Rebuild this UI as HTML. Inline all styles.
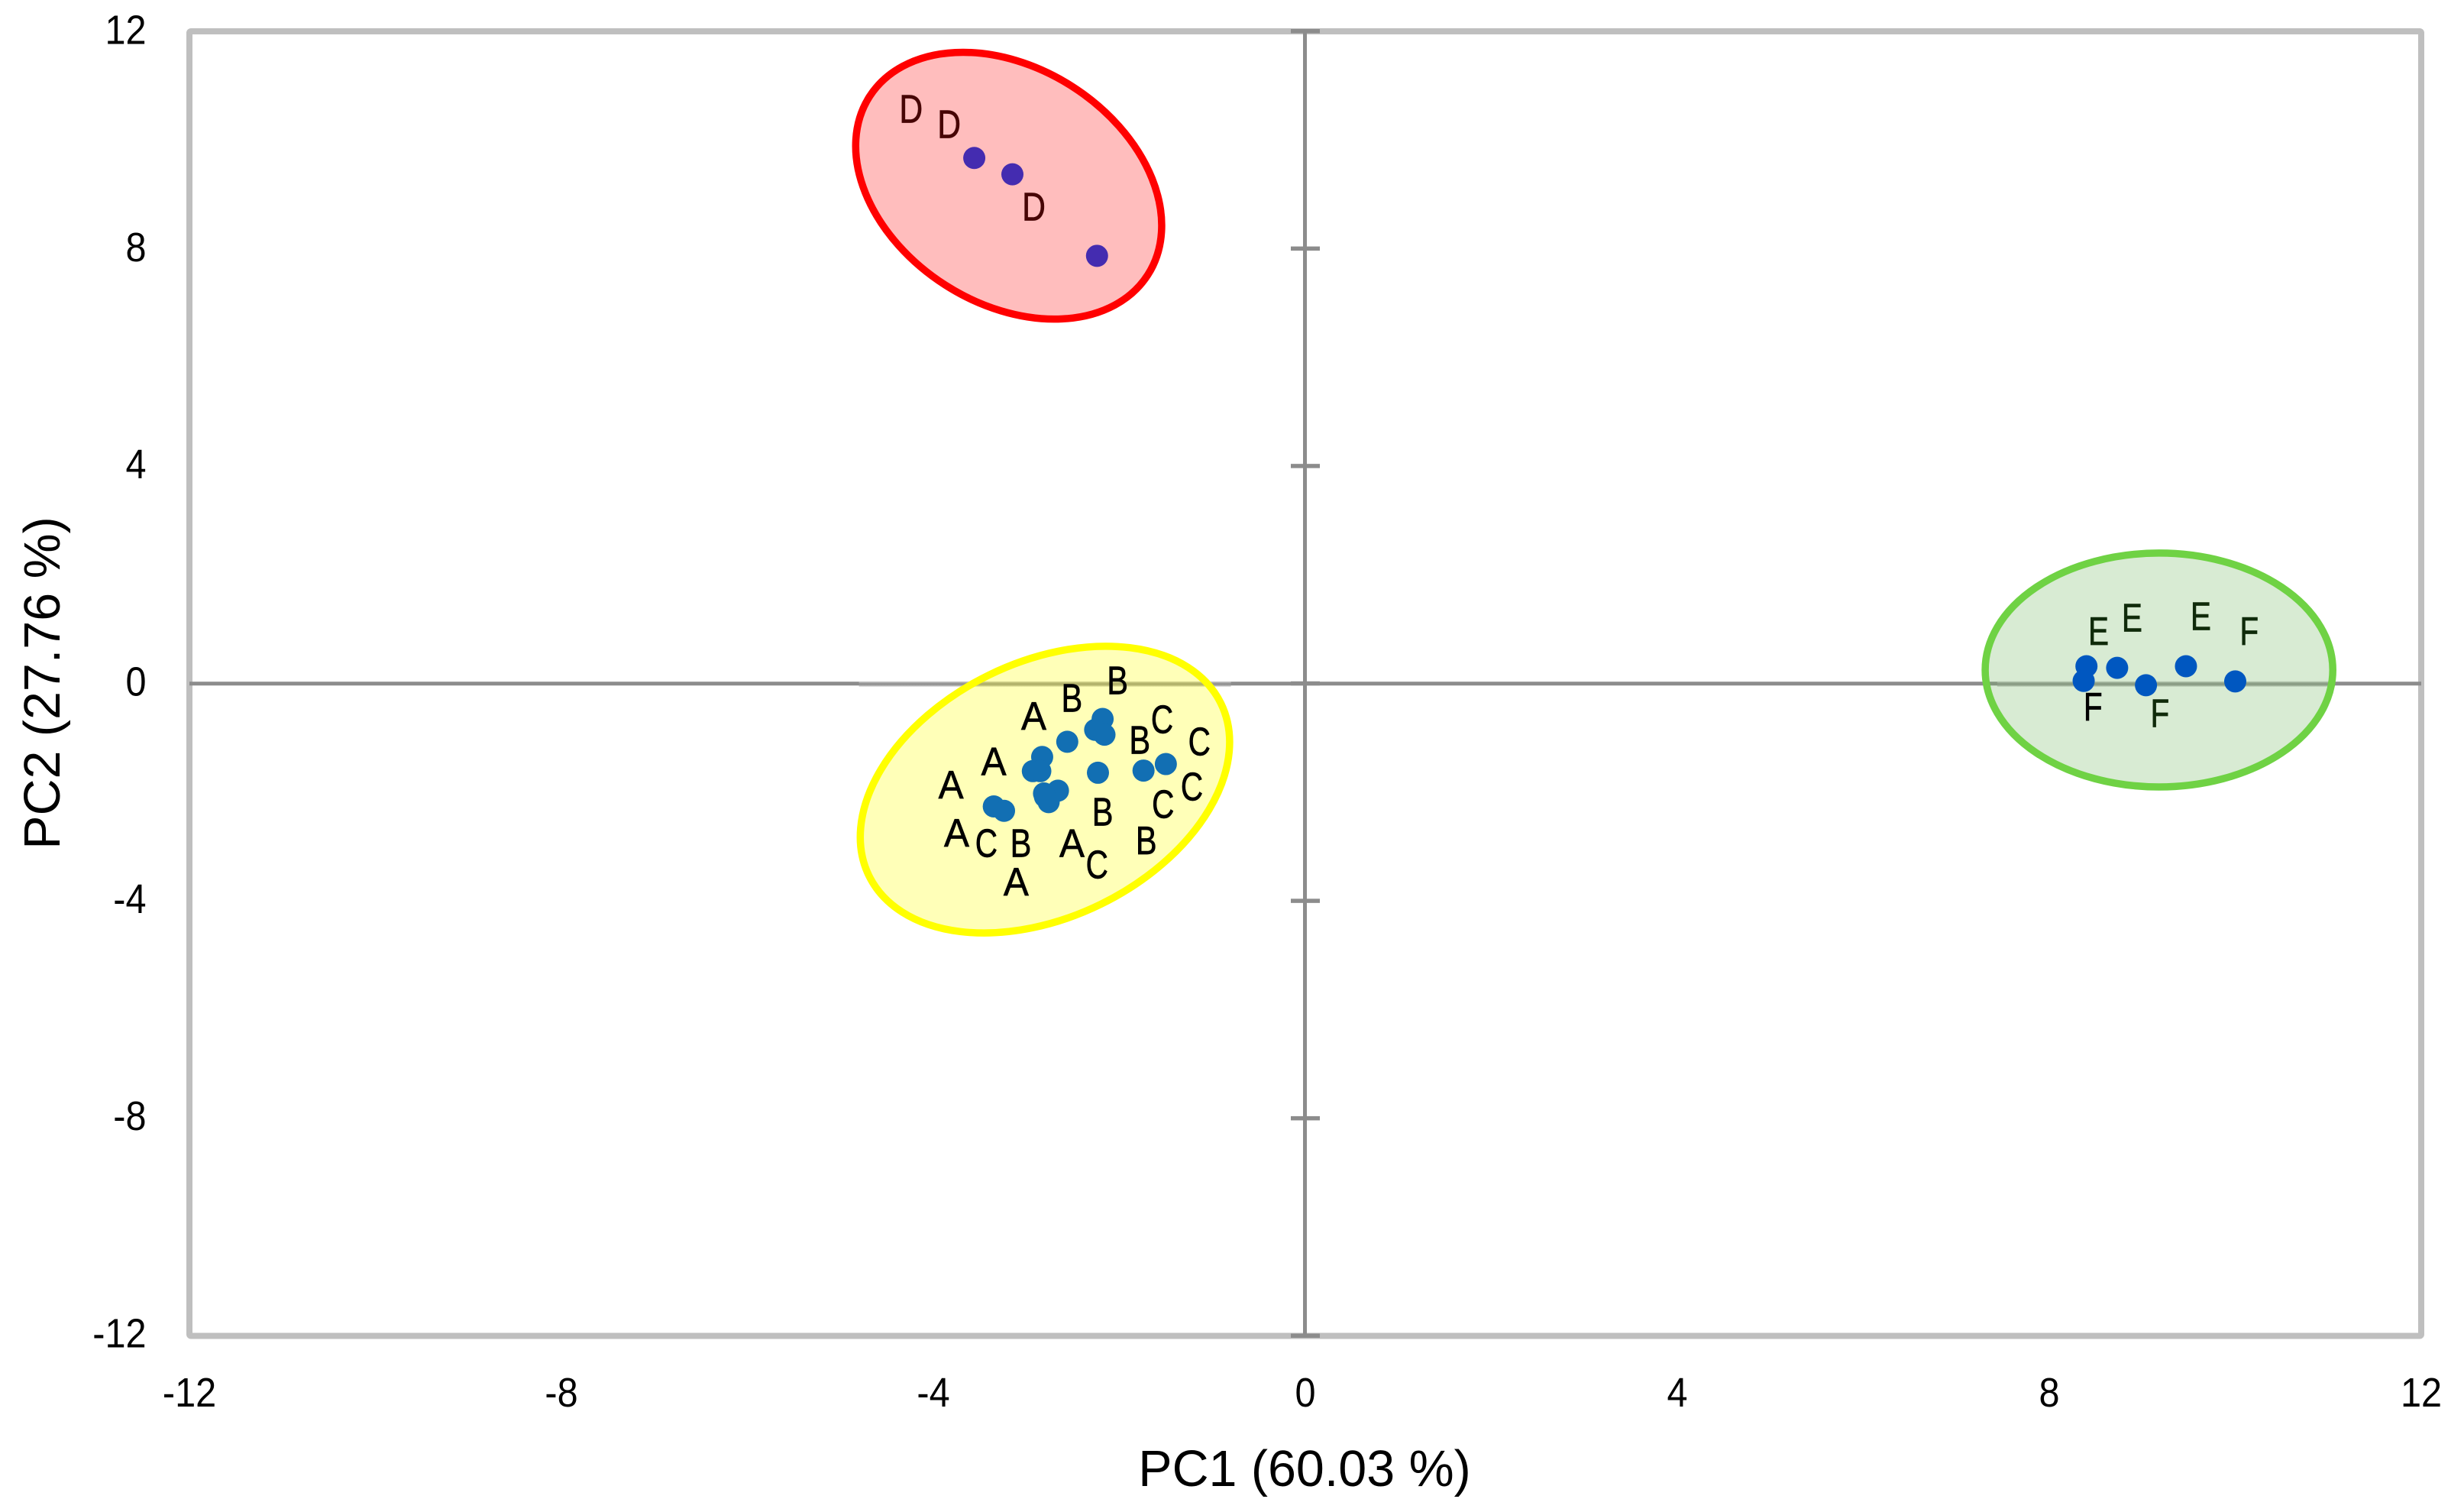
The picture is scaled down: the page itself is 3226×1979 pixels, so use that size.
<!DOCTYPE html>
<html lang="en">
<head>
<meta charset="utf-8">
<title>PCA score plot</title>
<style>
html,body{margin:0;padding:0;background:#fff;}
svg{display:block;font-family:"Liberation Sans",sans-serif;}
</style>
</head>
<body>
<svg id="chart" xmlns="http://www.w3.org/2000/svg" width="3226" height="1979" viewBox="0 0 3226 1979">
  <defs>
    <linearGradient id="softLine" x1="0" y1="0" x2="0" y2="1">
      <stop offset="0" stop-color="#dddddd"/>
      <stop offset="0.3" stop-color="#a0a0a0"/>
      <stop offset="0.55" stop-color="#8c8c8c"/>
      <stop offset="0.8" stop-color="#b0b0b0"/>
      <stop offset="1" stop-color="#e0e0e0"/>
    </linearGradient>
  </defs>
  <rect x="0" y="0" width="3226" height="1979" fill="#ffffff"/>
  <g id="axes"></g>
  <g id="ellipses"></g>
  <g id="labels"></g>
  <g id="points"></g>
  <g id="ticktext"></g>
  <text x="1708" y="1945" font-size="66.4" text-anchor="middle" fill="#000">PC1 (60.03 %)</text>
  <text transform="translate(78 894) rotate(-90)" x="0" y="0" font-size="66.4" text-anchor="middle" fill="#000">PC2 (27.76 %)</text>
</svg>
<script>
// ---- data (axis units) ----
const xTickValues = [-12, -8, -4, 0, 4, 8, 12];
const yTickValues = [12, 8, 4, 0, -4, -8, -12];

const clusterABCx = [-2.56, -2.18, -2.26, -2.16, -2.23, -1.74, -1.50, -2.83, -2.93, -2.85, -2.66, -2.81, -2.76, -2.80, -3.35, -3.24];
const clusterABCy = [-1.07, -0.65, -0.85, -0.94, -1.64, -1.60, -1.48, -1.35, -1.61, -1.61, -1.97, -2.02, -2.18, -2.08, -2.26, -2.34];
const clusterDx = [-3.56, -3.15, -2.24];
const clusterDy = [9.67, 9.37, 7.87];
const clusterEFx = [8.40, 8.37, 8.73, 9.04, 9.47, 10.00];
const clusterEFy = [0.32, 0.05, 0.29, -0.03, 0.32, 0.04];

const labelText = ['A','A','A','A','A','A','B','B','B','B','B','B','C','C','C','C','C','C','D','D','D','E','E','E','F','F','F'];
const labelX = [-2.92,-3.35,-3.81,-3.75,-3.11,-2.51,-2.02,-2.51,-1.78,-2.18,-1.71,-3.06,-1.54,-1.14,-1.22,-1.53,-2.24,-3.43,-4.24,-3.83,-2.92,8.53,8.89,9.63,10.15,8.47,9.19];
const labelY = [-0.59,-1.42,-1.85,-2.74,-3.64,-2.93,0.07,-0.26,-1.03,-2.35,-2.88,-2.93,-0.65,-1.06,-1.89,-2.21,-3.32,-2.93,10.58,10.30,8.78,0.97,1.22,1.25,0.97,-0.42,-0.54];

const ellipseNames = ['cluster-d-ellipse', 'cluster-abc-ellipse', 'cluster-ef-ellipse'];
const ellipseCx = [-3.19, -2.80, 9.18];
const ellipseCy = [9.16, -1.95, 0.25];
const ellipseMajor = [1.777, 2.107, 1.869];
const ellipseMinor = [1.267, 1.371, 1.257];
const ellipseTilt = [32.6, -26.1, 0];

const softAxisFrom = [-4.80, 7.44];
const softAxisTo = [-0.80, 11.00];

// ---- axis functions ----
const plotLeft = 248, plotRight = 3170, plotTop = 41, plotBottom = 1748.5;
const xUnit = (plotRight - plotLeft) / 24;
const yUnit = (plotBottom - plotTop) / 24;
function xScale(v) { return plotLeft + (v + 12) * xUnit; }
function yScale(v) { return plotTop + (12 - v) * yUnit; }

const NS = 'http://www.w3.org/2000/svg';
function make(parentId, tag, attrs) {
  const el = document.createElementNS(NS, tag);
  for (const k in attrs) el.setAttribute(k, attrs[k]);
  document.getElementById(parentId).appendChild(el);
  return el;
}

// frame
const frame = make('axes', 'rect', {x: plotLeft, y: plotTop, width: plotRight - plotLeft, height: plotBottom - plotTop, rx: 2, fill: 'none', stroke: '#bfbfbf', 'stroke-width': 8});



// horizontal axis
const hAxis = make('axes', 'rect', {x: plotLeft, y: yScale(0) - 2.5, width: plotRight - plotLeft, height: 5, fill: '#8c8c8c'});



softAxisFrom.forEach(function (from, i) {
  const cover = make('axes', 'rect', {x: xScale(from), y: yScale(0) - 3, width: xScale(softAxisTo[i]) - xScale(from), height: 7, fill: 'url(#softLine)'});
  
  
});

// vertical axis
const vAxis = make('axes', 'rect', {x: xScale(0) - 3, y: plotTop, width: 5, height: plotBottom - plotTop, fill: '#8c8c8c'});



// y ticks (on the vertical axis)
yTickValues.forEach(function (v) {
  const t = make('axes', 'rect', {x: xScale(0) - 19, y: yScale(v) - 3, width: 38, height: 5.5, fill: '#8c8c8c'});
  
  
});

// tick labels
const tickFont = 54, tickStretch = 0.9;
yTickValues.forEach(function (v) {
  const t = make('ticktext', 'text', {transform: 'translate(191.5 ' + (yScale(v) + 16.5 - (12 - v) * 0.06) + ') scale(' + tickStretch + ' 1)', 'font-size': tickFont, 'text-anchor': 'end', fill: '#000'});
  t.textContent = String(v);
  
  
});
xTickValues.forEach(function (v) {
  const t = make('ticktext', 'text', {transform: 'translate(' + xScale(v) + ' 1841) scale(' + tickStretch + ' 1)', 'font-size': tickFont, 'text-anchor': 'middle', fill: '#000'});
  t.textContent = String(v);
  
  
});

// cluster ellipses
const ellipseFill = ['rgba(255,0,0,0.26)', 'rgba(255,255,0,0.28)', 'rgba(111,181,92,0.27)'];
const ellipseStroke = ['#ff0000', '#ffff00', '#6fd244'];
ellipseNames.forEach(function (name, i) {
  const cx = xScale(ellipseCx[i]), cy = yScale(ellipseCy[i]);
  const e = make('ellipses', 'ellipse', {cx: cx, cy: cy, rx: ellipseMajor[i] * xUnit, ry: ellipseMinor[i] * xUnit, transform: 'rotate(' + ellipseTilt[i] + ' ' + cx + ' ' + cy + ')', fill: ellipseFill[i], stroke: ellipseStroke[i], 'stroke-width': 9.5});
  
  
});

// point labels
const labelColor = {A: '#000000', B: '#000000', C: '#000000', D: '#460505', E: '#0f2a0a', F: '#0f2a0a'};
const labelStretch = {A: 0.95, B: 0.8, C: 0.78, D: 0.82, E: 0.78, F: 0.78};
labelText.forEach(function (s, i) {
  const t = make('labels', 'text', {transform: 'translate(' + xScale(labelX[i]) + ' ' + (yScale(labelY[i]) + 18.5) + ') scale(' + labelStretch[s] + ' 1)', 'font-size': 52, 'text-anchor': 'middle', fill: (i === 25 ? '#000000' : labelColor[s]), stroke: (i === 25 ? '#000000' : labelColor[s]), 'stroke-width': 0.7});
  t.textContent = s;
  
  
});

// points
function drawPoints(xs, ys, color, name) {
  xs.forEach(function (x, i) {
    const c = make('points', 'circle', {cx: xScale(x), cy: yScale(ys[i]), r: 14.5, fill: color});
    
    
  });
}
drawPoints(clusterABCx, clusterABCy, '#126fb3', 'point-cluster-abc');
drawPoints(clusterDx, clusterDy, '#442cb0', 'point-cluster-d');
drawPoints(clusterEFx, clusterEFy, '#0057c0', 'point-cluster-ef');
</script>
</body>
</html>
